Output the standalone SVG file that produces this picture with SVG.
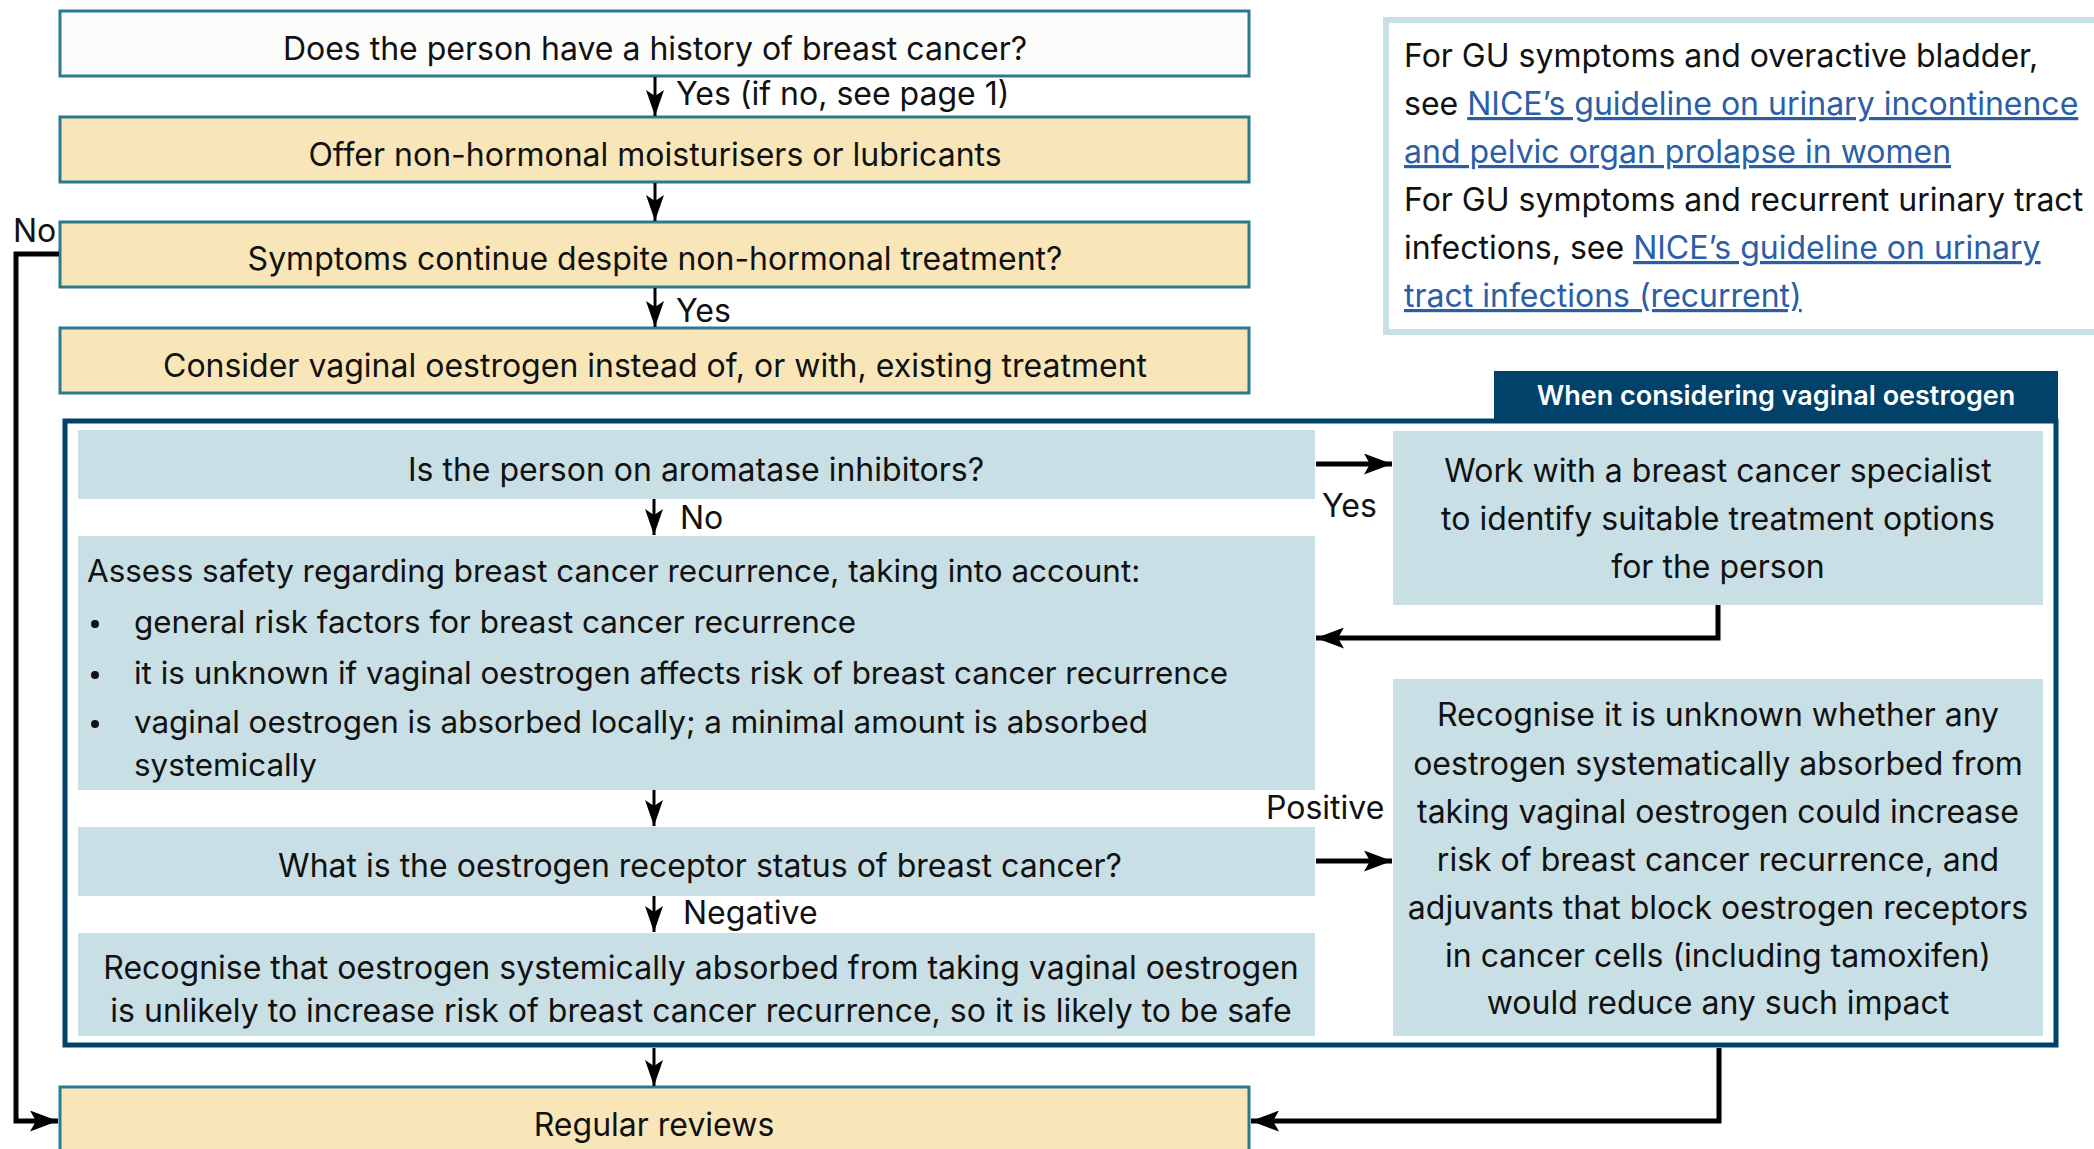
<svg xmlns="http://www.w3.org/2000/svg" width="2094" height="1149" viewBox="0 0 2094 1149">
<style>
text{font-family:Inter,"Noto Sans","Liberation Sans",sans-serif;font-size:32px;fill:#111;}
.c{text-anchor:middle;}
.q{fill:#fcfcfb;stroke:#2a7a8f;stroke-width:3;}
.y{fill:#f8e6b9;stroke:#2a7a8f;stroke-width:3;}
.b{fill:#c8dfe5;}
.link{fill:#2a5fa8;text-decoration:underline;}
.thin{fill:none;stroke:#000;stroke-width:3;}
.thick{fill:none;stroke:#000;stroke-width:5;}
</style>
<defs>
<marker id="ah" markerUnits="userSpaceOnUse" markerWidth="26" markerHeight="18" refX="26" refY="9" viewBox="0 0 26 18" orient="auto">
<path d="M0,0 L26,9 L0,18 L6,9 Z" fill="#000"/>
</marker>
<marker id="ahb" markerUnits="userSpaceOnUse" markerWidth="28" markerHeight="21" refX="28" refY="10.5" viewBox="0 0 28 21" orient="auto">
<path d="M0,0 L28,10.5 L0,21 L6,10.5 Z" fill="#000"/>
</marker>
</defs>

<g id="info">
<rect x="1386" y="20" width="720" height="312" fill="#fff" stroke="#c8dfe5" stroke-width="6"/>
<text x="1404" y="67">For GU symptoms and overactive bladder,</text>
<text x="1404" y="115">see <tspan class="link">NICE’s guideline on urinary incontinence </tspan></text>
<text x="1404" y="163" class="link">and pelvic organ prolapse in women</text>
<text x="1404" y="211">For GU symptoms and recurrent urinary tract</text>
<text x="1404" y="259">infections, see <tspan class="link">NICE’s guideline on urinary </tspan></text>
<text x="1404" y="307" class="link">tract infections (recurrent)</text>
</g>

<g id="n1"><rect class="q" x="60" y="11" width="1189" height="65"/><text class="c" x="655" y="60">Does the person have a history of breast cancer?</text></g>
<g id="n2"><rect class="y" x="60" y="117" width="1189" height="65"/><text class="c" x="655" y="166">Offer non-hormonal moisturisers or lubricants</text></g>
<g id="n3"><rect class="y" x="60" y="222" width="1189" height="65"/><text class="c" x="655" y="270">Symptoms continue despite non-hormonal treatment?</text></g>
<g id="n4"><rect class="y" x="60" y="328" width="1189" height="65"/><text class="c" x="655" y="377">Consider vaginal oestrogen instead of, or with, existing treatment</text></g>

<g id="frame">
<rect x="1494" y="371" width="564" height="50" fill="#00426a"/>
<text class="c" x="1776" y="405" style="fill:#fff;font-weight:600;font-size:27px">When considering vaginal oestrogen</text>
<rect x="65" y="421" width="1991" height="624" fill="none" stroke="#00426a" stroke-width="5"/>
</g>

<g id="nA"><rect class="b" x="78" y="430" width="1237" height="69"/><text class="c" x="696" y="481">Is the person on aromatase inhibitors?</text></g>
<g id="nB" style="font-size:31.4px"><rect class="b" x="78" y="536" width="1237" height="254"/>
<text x="87" y="582" style="font-size:31.4px">Assess safety regarding breast cancer recurrence, taking into account:</text>
<circle cx="95" cy="624" r="4" fill="#111"/><text x="134" y="633" style="font-size:31.4px">general risk factors for breast cancer recurrence</text>
<circle cx="95" cy="675" r="4" fill="#111"/><text x="134" y="684" style="font-size:31.4px">it is unknown if vaginal oestrogen affects risk of breast cancer recurrence</text>
<circle cx="95" cy="724" r="4" fill="#111"/><text x="134" y="733" style="font-size:31.4px">vaginal oestrogen is absorbed locally; a minimal amount is absorbed</text>
<text x="134" y="776" style="font-size:31.4px">systemically</text>
</g>
<g id="nC"><rect class="b" x="78" y="827" width="1237" height="69"/><text class="c" x="700" y="877">What is the oestrogen receptor status of breast cancer?</text></g>
<g id="nD"><rect class="b" x="78" y="933" width="1237" height="103"/>
<text class="c" x="701" y="979">Recognise that oestrogen systemically absorbed from taking vaginal oestrogen</text>
<text class="c" x="701" y="1022">is unlikely to increase risk of breast cancer recurrence, so it is likely to be safe</text>
</g>
<g id="nE"><rect class="b" x="1393" y="431" width="650" height="174"/>
<text class="c" x="1718" y="482">Work with a breast cancer specialist</text>
<text class="c" x="1718" y="530">to identify suitable treatment options</text>
<text class="c" x="1718" y="578">for the person</text>
</g>
<g id="nF"><rect class="b" x="1393" y="679" width="650" height="357"/>
<text class="c" x="1718" y="726">Recognise it is unknown whether any</text>
<text class="c" x="1718" y="775">oestrogen systematically absorbed from</text>
<text class="c" x="1718" y="823">taking vaginal oestrogen could increase</text>
<text class="c" x="1718" y="871">risk of breast cancer recurrence, and</text>
<text class="c" x="1718" y="919">adjuvants that block oestrogen receptors</text>
<text class="c" x="1718" y="967">in cancer cells (including tamoxifen)</text>
<text class="c" x="1718" y="1014">would reduce any such impact</text>
</g>
<g id="nG"><rect class="y" x="60" y="1087" width="1189" height="80"/><text class="c" x="654" y="1136">Regular reviews</text></g>

<g id="connectors">
<path class="thin" d="M655,77 V116" marker-end="url(#ah)"/>
<text x="676" y="105">Yes (if no, see page 1)</text>
<path class="thin" d="M655,183 V221" marker-end="url(#ah)"/>
<path class="thin" d="M655,288 V327" marker-end="url(#ah)"/>
<text x="676" y="322">Yes</text>
<path class="thick" d="M59,254 H16 V1121 H58" marker-end="url(#ahb)"/>
<text x="13" y="242">No</text>
<path class="thin" d="M654,499 V535" marker-end="url(#ah)"/>
<text x="680" y="529">No</text>
<path class="thin" d="M654,790 V826" marker-end="url(#ah)"/>
<path class="thin" d="M654,896 V932" marker-end="url(#ah)"/>
<text x="683" y="924">Negative</text>
<path class="thin" d="M654,1048 V1086" marker-end="url(#ah)"/>
<path class="thick" d="M1316,464 H1392" marker-end="url(#ahb)"/>
<text x="1322" y="517">Yes</text>
<path class="thick" d="M1718,605 V638 H1316" marker-end="url(#ahb)"/>
<path class="thick" d="M1316,861 H1392" marker-end="url(#ahb)"/>
<text x="1266" y="819">Positive</text>
<path class="thick" d="M1719,1048 V1121 H1251" marker-end="url(#ahb)"/>
</g>
</svg>
